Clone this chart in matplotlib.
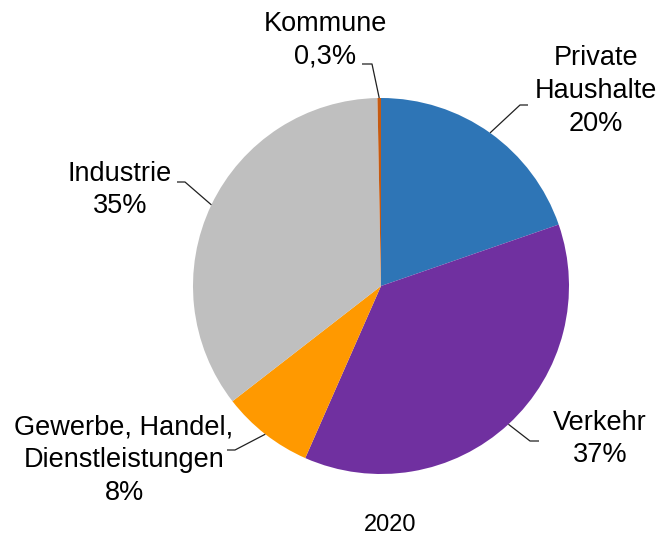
import numpy as np
import matplotlib
matplotlib.use("Agg")
import matplotlib.pyplot as plt

plt.rcParams['font.family'] = ['Liberation Sans', 'DejaVu Sans']

# ---- data ----
categories = ["Private\nHaushalte", "Verkehr", "Gewerbe, Handel,\nDienstleistungen", "Industrie", "Kommune"]
values = [19.7, 36.9, 7.9, 35.2, 0.3]
colors = ["#2E75B6", "#7030A0", "#FF9900", "#BFBFBF", "#C55A11"]
year_label = "2020"

def fmt(v):
    if v < 1:
        return f"{v:.1f}".replace(".", ",") + "%"
    return f"{round(v):d}%"

# ---- layout (pixel coordinates, y from top) ----
W, H = 661, 540
center_px = (381, 286)
radius_px = 188
# elbow point, end point of leader, text center
layout = [
    dict(elbow=(520, 105), end=(528, 105), text=(596, 91)),
    dict(elbow=(530, 441), end=(539, 441), text=(600, 439)),
    dict(elbow=(235, 450), end=(227, 450), text=(124, 460)),
    dict(elbow=(185, 182), end=(177, 182), text=(120, 190)),
    dict(elbow=(372, 64), end=(362, 64), text=(325, 40)),
]

fig = plt.figure(figsize=(W / 100, H / 100), dpi=100)
ax = fig.add_axes([0, 0, 1, 1])

def P(x, y):
    return x, H - y

wedges, _ = ax.pie(values, colors=colors, startangle=90, counterclock=False,
                   center=P(*center_px), radius=radius_px, frame=True,
                   wedgeprops=dict(linewidth=0))

cx, cy = P(*center_px)
for w, cat, v, lay in zip(wedges, categories, values, layout):
    ang = np.deg2rad((w.theta1 + w.theta2) / 2)
    sx = cx + radius_px * np.cos(ang)
    sy = cy + radius_px * np.sin(ang)
    ex, ey = P(*lay["elbow"])
    tx, ty = P(*lay["end"])
    ax.plot([sx, ex, tx], [sy, ey, ty], color="#202020", lw=0.9, solid_capstyle="butt")
    ax.text(*P(*lay["text"]), f"{cat}\n{fmt(v)}", ha="center", va="center",
            fontsize=19.5, color="black", linespacing=1.33)

ax.text(*P(390, 525), year_label, ha="center", va="center", fontsize=17, color="black")

ax.set_xlim(0, W)
ax.set_ylim(0, H)
ax.set_aspect("equal")
ax.axis("off")
fig.savefig("out.png", dpi=100)
